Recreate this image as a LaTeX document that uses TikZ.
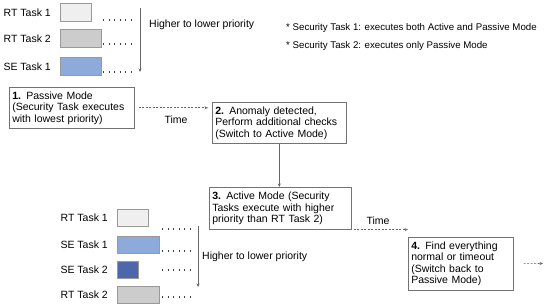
\documentclass[tikz,border=0pt]{standalone}
\usepackage{fontspec}
\setmainfont{Liberation Sans}
\usetikzlibrary{positioning, arrows.meta}
\definecolor{rtlight}{HTML}{EFEFEF}
\definecolor{rtgray}{HTML}{CCCCCC}
\definecolor{seblue}{HTML}{8EAADB}
\definecolor{sedark}{HTML}{4E66AA}

\begin{document}
\begin{tikzpicture}[
  x=1pt, y=-1pt,
  font=\fontsize{10.5}{11.5}\selectfont,
  stepbox/.style={
    rectangle,
    draw=black!55,
    line width=0.6pt,
    anchor=north west,
    align=left,
    inner xsep=3pt,
    inner ysep=1pt
  },
  bar/.style={
    rectangle,
    draw=black!40,
    line width=0.6pt,
    anchor=north west,
    inner sep=0pt,
    minimum height=18pt,
    fill=#1
  },
  tasktext/.style={inner sep=3pt},
  notetext/.style={inner sep=3pt, anchor=west, font=\fontsize{9.7}{11}\selectfont},
  dotrow/.style={line width=1.3pt, dash pattern=on 1.2pt off 4.3pt, draw=black!75},
  arrow/.style={-{Stealth[length=3.5pt, width=3pt]}, draw=black!60, line width=0.6pt},
  dasharrow/.style={arrow, dash pattern=on 2pt off 1.5pt}
]

\useasboundingbox (0,0) rectangle (550,307);

\node[bar=rtlight, minimum width=31pt] (toprt1) at (60,3) {};
\node[bar=rtgray, minimum width=41pt] (toprt2) at (60,29) {};
\node[bar=seblue, minimum width=41pt] (topse1) at (60,57) {};
\node[tasktext, left=6pt of toprt1] (toprt1text) {RT Task 1};
\node[tasktext, left=6pt of toprt2] (toprt2text) {RT Task 2};
\node[tasktext, left=6pt of topse1] (topse1text) {SE Task 1};

\draw[dotrow] (103,20) -- (132,20);
\draw[dotrow] (103,44) -- (132,44);
\draw[dotrow] (103,72) -- (132,72);

\coordinate (topprio1) at (140,8);
\coordinate (topprio2) at (140,72);
\draw[arrow] (topprio1) -- (topprio2);
\node[tasktext, anchor=west] (topprio) at (146,25) {Higher to lower priority};

\node[notetext] (note1) at (283,28) {* Security Task 1: executes both Active and Passive Mode};
\node[notetext] (note2) at (283,46) {* Security Task 2: executes only Passive Mode};

\node[stepbox, text width=119pt, minimum height=41pt] (passive) at (9,87) {\textbf{1.} Passive Mode\\(Security Task executes\\with lowest priority)};
\node[stepbox, text width=128pt, minimum height=41pt] (anomaly) at (212,102) {\textbf{2.} Anomaly detected,\\Perform additional checks\\(Switch to Active Mode)};
\node[stepbox, text width=136pt, minimum height=42pt] (active) at (209,187) {\textbf{3.} Active Mode (Security\\Tasks execute with higher\\priority than RT Task 2)};
\node[stepbox, text width=99pt, minimum height=53pt] (normal) at (408,237) {\textbf{4.} Find everything\\normal or timeout\\(Switch back to\\Passive Mode)};
\coordinate (tail) at (543,263.5);

\draw[dasharrow, shorten <=4pt, shorten >=4pt] (passive.east) -- (passive.east -| anomaly.west);
\node[tasktext] (time1) at (176,120) {Time};
\draw[arrow] (anomaly.south) -- (anomaly.south |- active.north);
\draw[dasharrow, shorten <=2pt] (active.south east) -- (active.south east -| normal.west);
\node[tasktext] (time2) at (378,221) {Time};
\draw[dasharrow, shorten <=10pt] (normal.east) -- (tail);

\node[bar=rtlight, minimum width=31pt, minimum height=17pt] (botrt1) at (117,209) {};
\node[bar=seblue, minimum width=42pt, minimum height=17pt] (botse1) at (117,236) {};
\node[bar=sedark, minimum width=21pt, minimum height=17pt] (botse2) at (117,261) {};
\node[bar=rtgray, minimum width=42pt, minimum height=17pt] (botrt2) at (117,286) {};
\node[tasktext, left=6pt of botrt1] (botrt1text) {RT Task 1};
\node[tasktext, left=6pt of botse1] (botse1text) {SE Task 1};
\node[tasktext, left=6pt of botse2] (botse2text) {SE Task 2};
\node[tasktext, left=6pt of botrt2] (botrt2text) {RT Task 2};

\draw[dotrow] (162,229) -- (191,229);
\draw[dotrow] (162,251) -- (191,251);
\draw[dotrow] (162,270) -- (191,270);
\draw[dotrow] (162,297) -- (191,297);

\coordinate (botprio1) at (198,226);
\coordinate (botprio2) at (198,287);
\draw[arrow] (botprio1) -- (botprio2);
\node[tasktext, anchor=west] (botprio) at (199,257) {Higher to lower priority};

\end{tikzpicture}
\end{document}
